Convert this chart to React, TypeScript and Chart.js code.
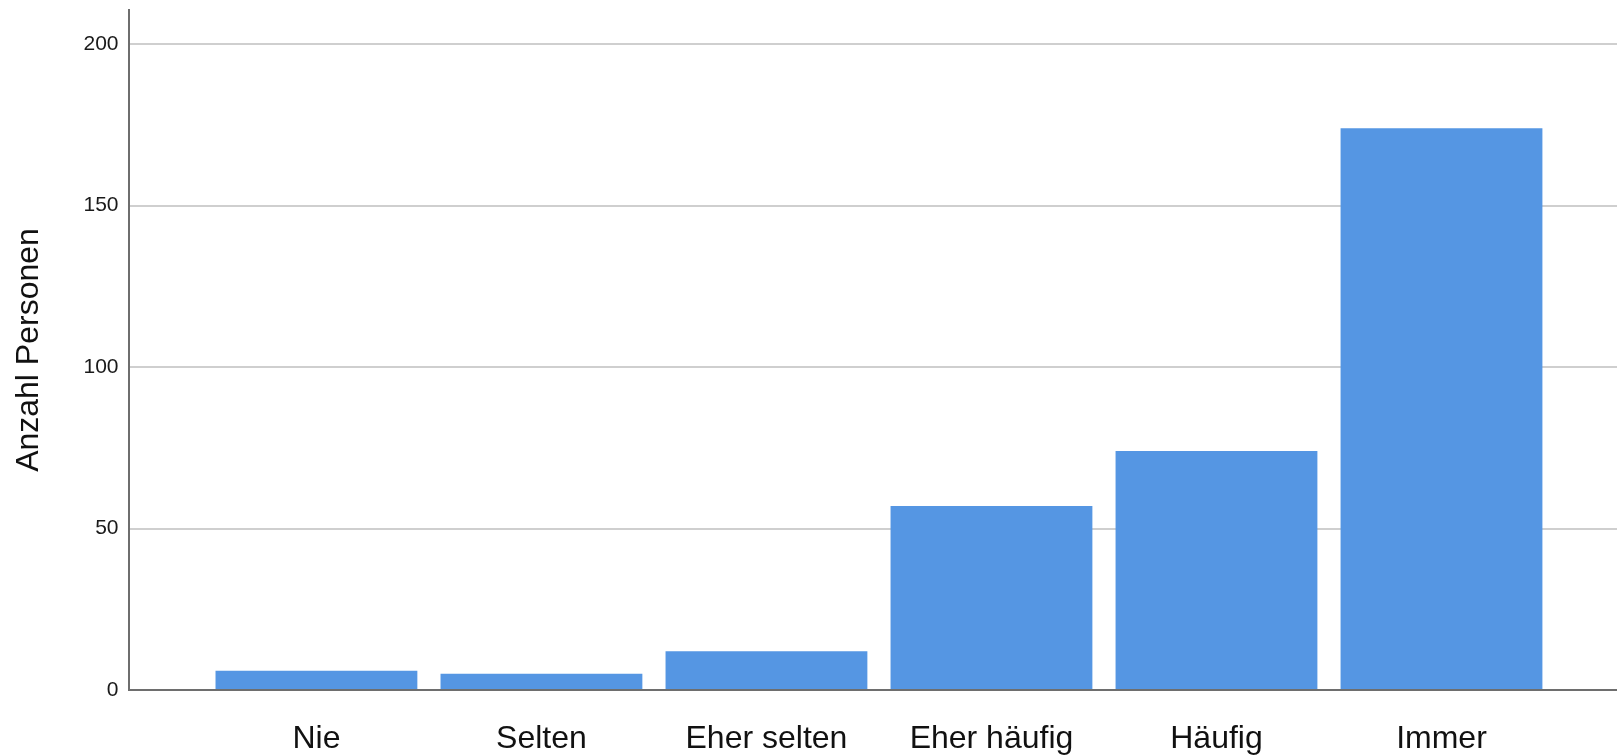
import React, { useEffect, useRef } from "react";
import { Chart, registerables } from "chart.js";

Chart.register(...registerables);

const categories = ["Nie", "Selten", "Eher selten", "Eher häufig", "Häufig", "Immer"];
const counts = [6, 5, 12, 57, 74, 174];
const yTicks = [0, 50, 100, 150, 200];
const yTitle = "Anzahl Personen";

const FONT = "'Liberation Sans', Arial, sans-serif";

export default function App() {
  const ref = useRef<HTMLCanvasElement | null>(null);

  useEffect(() => {
    if (!ref.current) return;
    const chart = new Chart(ref.current, {
      type: "bar",
      data: {
        datasets: [
          {
            data: counts.map((v, i) => ({ x: i, y: v })),
            backgroundColor: "#5596e3",
            borderWidth: 0,
            barPercentage: 0.897,
            categoryPercentage: 1,
          },
        ],
      },
      options: {
        animation: false,
        responsive: false,
        maintainAspectRatio: false,
        layout: { padding: { top: 0, left: 0, right: 0, bottom: 0 } },
        plugins: { legend: { display: false }, tooltip: { enabled: false } },
        scales: {
          x: {
            type: "linear",
            offset: false,
            min: -0.833,
            max: 5.78,
            grid: { display: false, drawTicks: false },
            border: { display: true, color: "#6e6e6e", width: 2 },
            afterBuildTicks: (scale: any) => {
              scale.ticks = categories.map((_, i) => ({ value: i }));
            },
            afterFit: (scale: any) => {
              scale.height = 65;
              scale.paddingLeft = 0;
              scale.paddingRight = 0;
            },
            ticks: {
              autoSkip: false,
              maxRotation: 0,
              padding: 30,
              color: "#111",
              font: { family: FONT, size: 32 },
              callback: (v: any) => categories[Math.round(Number(v))] ?? "",
            },
          },
          y: {
            type: "linear",
            min: 0,
            max: 210.6,
            afterBuildTicks: (scale: any) => {
              scale.ticks = yTicks.map((v) => ({ value: v }));
            },
            afterFit: (scale: any) => {
              scale.width = 129;
              scale.paddingTop = 10;
              scale.paddingBottom = 0;
            },
            grid: { color: "#cfcfcf", lineWidth: 2, drawTicks: false },
            border: { display: true, color: "#6e6e6e", width: 2 },
            ticks: {
              padding: 10.5,
              color: "#1a1a1a",
              font: { family: FONT, size: 21, lineHeight: 1 },
            },
            title: {
              display: true,
              text: yTitle,
              color: "#111",
              padding: { top: 10, bottom: 0 },
              font: { family: FONT, size: 32 },
            },
          },
        },
      },
    });
    return () => chart.destroy();
  }, []);

  return (
    <div style={{ position: "fixed", left: 0, top: 0, width: 1617, height: 755, background: "#fff" }}>
      <canvas ref={ref} width={1617} height={755} style={{ width: 1617, height: 755, display: "block" }} />
    </div>
  );
}
